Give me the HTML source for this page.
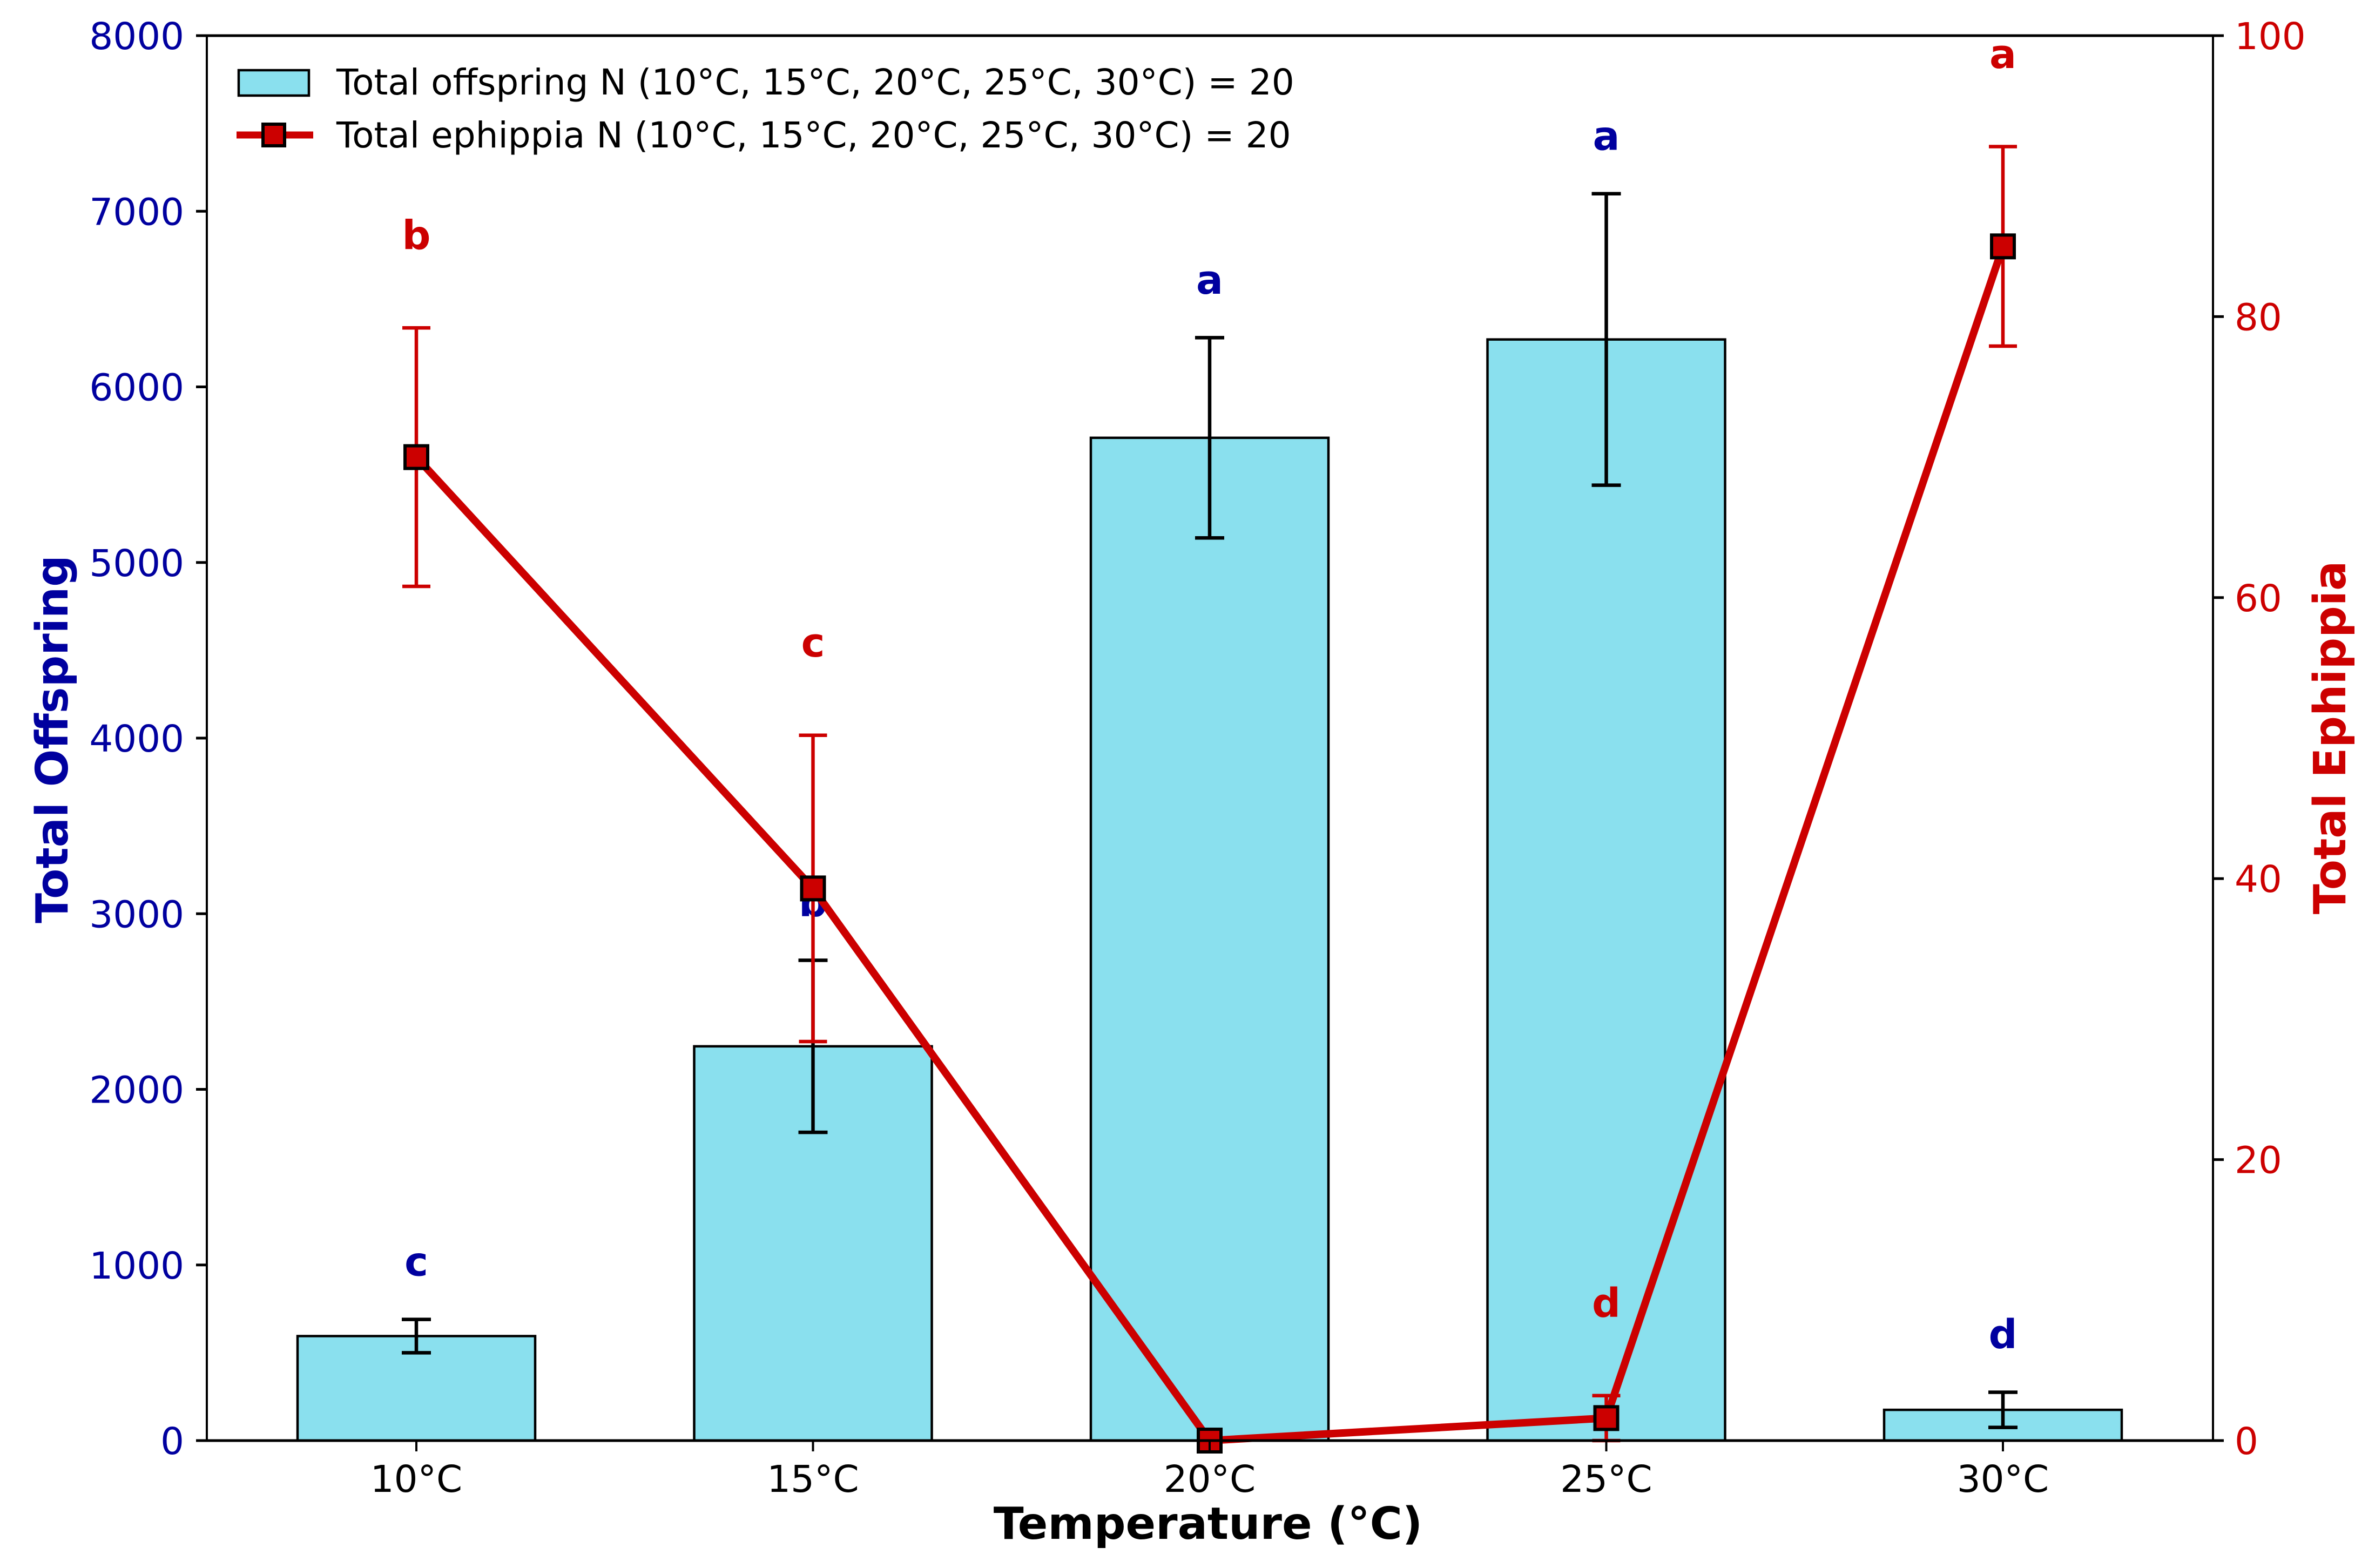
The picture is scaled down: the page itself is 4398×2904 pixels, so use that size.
<!DOCTYPE html>
<html lang="en">
<head>
<meta charset="utf-8">
<title>Total offspring and ephippia by temperature</title>
<style>
html,body{margin:0;padding:0;background:#fff;width:4398px;height:2904px;overflow:hidden}
svg{display:block;font-family:"DejaVu Sans","Liberation Sans",sans-serif}
</style>
</head>
<body>
<svg id="chart" xmlns="http://www.w3.org/2000/svg" width="4398" height="2904" viewBox="0 0 4398 2904"></svg>
<script>
const categories = ["10°C", "15°C", "20°C", "25°C", "30°C"];
const offspringMeans = [595, 2245, 5710, 6270, 175];
const offspringErrors = [95, 490, 570, 830, 100];
const offspringLetters = ["c", "b", "a", "a", "d"];
const ephippiaMeans = [70, 39.3, 0, 1.6, 85];
const ephippiaErrors = [9.2, 10.9, 0, 1.6, 7.1];
const ephippiaLetters = ["b", "c", "", "d", "a"];
const leftTicks = [0, 1000, 2000, 3000, 4000, 5000, 6000, 7000, 8000];
const rightTicks = [0, 20, 40, 60, 80, 100];

const NS = "http://www.w3.org/2000/svg";
const svg = document.getElementById("chart");
const BLUE = "#00009f", RED = "#cc0000", FILL = "#8ae0ee";
const plot = {l: 383, r: 4098, t: 66, b: 2668};
const leftMax = 8000, rightMax = 100;
function xPos(i) { return 771 + i * 734.5; }
function yLeft(v) { return plot.b - (v / leftMax) * (plot.b - plot.t); }
function yRight(v) { return plot.b - (v / rightMax) * (plot.b - plot.t); }
function mk(tag, attrs, text) {
  const el = document.createElementNS(NS, tag);
  for (const k in attrs) el.setAttribute(k, attrs[k]);
  if (text !== undefined) el.textContent = text;
  svg.appendChild(el);
  return el;
}
let el;

// bars and their error bars
categories.forEach(function (c, i) {
  const top = yLeft(offspringMeans[i]);
  el = mk("rect", {x: xPos(i) - 220, y: top, width: 440, height: plot.b - top, fill: FILL, stroke: "#000", "stroke-width": 4.5});
  
  
});
categories.forEach(function (c, i) {
  const hi = yLeft(offspringMeans[i] + offspringErrors[i]);
  const lo = yLeft(offspringMeans[i] - offspringErrors[i]);
  const x = xPos(i);
  el = mk("path", {d: "M" + x + " " + hi + "V" + lo + "M" + (x - 27) + " " + hi + "H" + (x + 27) + "M" + (x - 27) + " " + lo + "H" + (x + 27), stroke: "#000", "stroke-width": 6.5, fill: "none"});
  
  
  el = mk("text", {x: x, y: yLeft(offspringMeans[i] + offspringErrors[i] + 250), "text-anchor": "middle", "font-size": 74, "font-weight": "bold", fill: BLUE}, offspringLetters[i]);
  
  
});

// ephippia error bars
categories.forEach(function (c, i) {
  if (ephippiaErrors[i] === 0) return;
  const hi = yRight(ephippiaMeans[i] + ephippiaErrors[i]);
  const lo = yRight(ephippiaMeans[i] - ephippiaErrors[i]);
  const x = xPos(i);
  el = mk("path", {d: "M" + x + " " + hi + "V" + lo + "M" + (x - 26) + " " + hi + "H" + (x + 26) + "M" + (x - 26) + " " + lo + "H" + (x + 26), stroke: RED, "stroke-width": 6.5, fill: "none"});
  
  
});

// ephippia line
el = mk("polyline", {points: ephippiaMeans.map(function (v, i) { return xPos(i) + "," + yRight(v); }).join(" "), fill: "none", stroke: RED, "stroke-width": 14, "stroke-linejoin": "round"});



// ephippia markers and letters
categories.forEach(function (c, i) {
  const x = xPos(i), y = yRight(ephippiaMeans[i]);
  el = mk("rect", {x: x - 21, y: y - 21, width: 42, height: 42, fill: RED, stroke: "#000", "stroke-width": 6});
  
  
  if (ephippiaLetters[i]) {
    el = mk("text", {x: x, y: yRight(ephippiaMeans[i] + ephippiaErrors[i] + 5.6), "text-anchor": "middle", "font-size": 74, "font-weight": "bold", fill: RED}, ephippiaLetters[i]);
    
    
  }
});

// spines
el = mk("path", {d: "M" + plot.l + " " + plot.t + "V" + plot.b + "M" + plot.r + " " + plot.t + "V" + plot.b, stroke: "#000", "stroke-width": 4, fill: "none"});


el = mk("path", {d: "M" + plot.l + " " + plot.t + "H" + plot.r + "M" + plot.l + " " + plot.b + "H" + plot.r, stroke: "#000", "stroke-width": 5, fill: "none"});



// left axis
leftTicks.forEach(function (t) {
  const y = yLeft(t);
  el = mk("line", {x1: plot.l - 20, x2: plot.l, y1: y, y2: y, stroke: "#000", "stroke-width": 5});
  
  
  el = mk("text", {x: 341, y: y + 25, "text-anchor": "end", "font-size": 69, fill: BLUE}, String(t));
  
  
});

// right axis
rightTicks.forEach(function (t) {
  const y = yRight(t);
  el = mk("line", {x1: plot.r, x2: plot.r + 20, y1: y, y2: y, stroke: "#000", "stroke-width": 5});
  
  
  el = mk("text", {x: 4138, y: y + 25, "font-size": 69, fill: RED}, String(t));
  
  
});

// x axis
categories.forEach(function (c, i) {
  el = mk("line", {x1: xPos(i), x2: xPos(i), y1: plot.b, y2: plot.b + 20, stroke: "#000", "stroke-width": 4});
  
  
  el = mk("text", {x: xPos(i), y: 2763, "text-anchor": "middle", "font-size": 69, fill: "#000"}, c);
  
  
});

// axis titles
el = mk("text", {x: 2237, y: 2850, "text-anchor": "middle", "font-size": 82, "font-weight": "bold", fill: "#000"}, "Temperature (°C)");


el = mk("text", {transform: "translate(125 1369) rotate(-90)", "text-anchor": "middle", "font-size": 82, "font-weight": "bold", fill: BLUE}, "Total Offspring");


el = mk("text", {transform: "translate(4343 1366) rotate(-90)", "text-anchor": "middle", "font-size": 82, "font-weight": "bold", fill: RED}, "Total Ephippia");



// legend
el = mk("rect", {x: 442, y: 130, width: 130, height: 47, fill: FILL, stroke: "#000", "stroke-width": 4.5});


el = mk("text", {x: 623, y: 175, "font-size": 66, fill: "#000"}, "Total offspring N (10°C, 15°C, 20°C, 25°C, 30°C) = 20");


el = mk("line", {x1: 438, x2: 580, y1: 250, y2: 250, stroke: RED, "stroke-width": 13});


el = mk("rect", {x: 487, y: 230, width: 40, height: 40, fill: RED, stroke: "#000", "stroke-width": 6});


el = mk("text", {x: 623, y: 273, "font-size": 66, fill: "#000"}, "Total ephippia N (10°C, 15°C, 20°C, 25°C, 30°C) = 20");


</script>
</body>
</html>
